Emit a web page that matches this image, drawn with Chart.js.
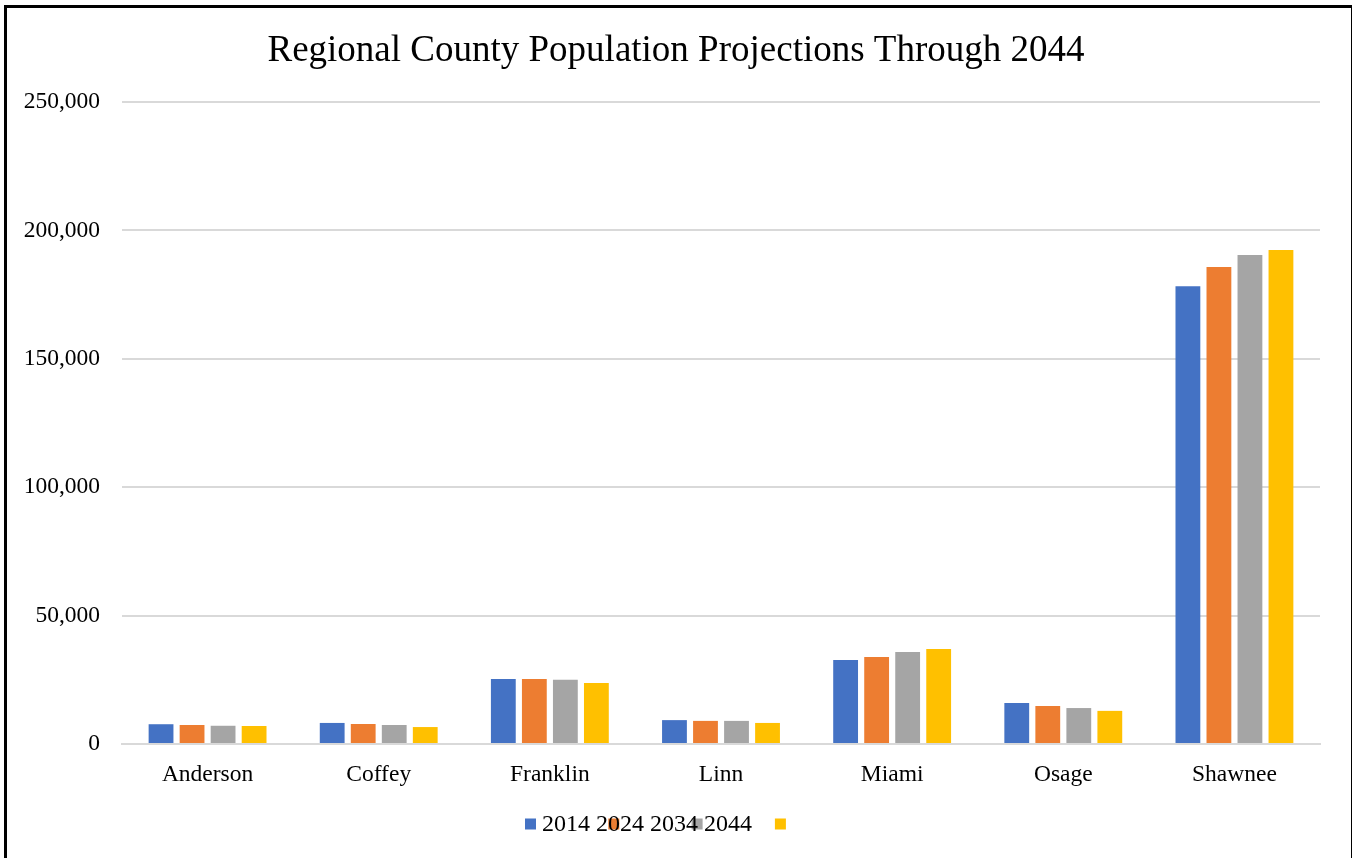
<!DOCTYPE html>
<html lang="en">
<head>
    <meta charset="UTF-8" />
    <title>Regional County Population Projections Through 2044</title>
    <script src="https://cdn.jsdelivr.net/npm/chart.js"></script>
    <style>
        html, body {
            margin: 0;
            padding: 0;
            background: #fff;
            overflow: hidden;
        }
        #wrap {
            position: relative;
            width: 1352px;
            height: 858px;
        }
        #frame {
            position: absolute;
            left: 4px;
            top: 5px;
            width: 1344px;
            height: 900px;
            border: 3px solid #000;
            pointer-events: none;
        }
    </style>
</head>
<body>
    <div id="wrap">
        <canvas id="popChart"></canvas>
        <div id="frame"></div>
    </div>

    <script>
        const counties = ['Anderson', 'Coffey', 'Franklin', 'Linn', 'Miami', 'Osage', 'Shawnee'];
        const years = ['2014', '2024', '2034', '2044'];
        const pop2014 = [7700, 8200, 25300, 9300, 32700, 16000, 178300];
        const pop2024 = [7400, 7800, 25300, 9000, 33900, 14800, 185700];
        const pop2034 = [7100, 7400, 25000, 9000, 35800, 14000, 190400];
        const pop2044 = [7000, 6600, 23800, 8200, 37000, 12900, 192400];
        const yTicks = [0, 50000, 100000, 150000, 200000, 250000];

        const colors = ['#4472C4', '#ED7D31', '#A5A5A5', '#FFC000'];
        const serif = "'Liberation Serif', 'Times New Roman', serif";

        // legend drawn by hand: boxes and labels run on their own spacing
        const legendPlugin = {
            id: 'looseLegend',
            afterDraw(chart) {
                const ctx = chart.ctx;
                const y = 824;
                const boxLeft = 525, boxPitch = 83.3, box = 11;
                ctx.save();
                chart.data.datasets.forEach((ds, i) => {
                    ctx.fillStyle = ds.backgroundColor;
                    ctx.fillRect(boxLeft + i * boxPitch, y - box / 2, box, box);
                });
                ctx.font = '24px ' + serif;
                ctx.fillStyle = '#000';
                ctx.textBaseline = 'middle';
                let x = 542;
                const gap = ctx.measureText(' ').width;
                chart.data.datasets.forEach(ds => {
                    ctx.fillText(ds.label, x, y + 1);
                    x += ctx.measureText(ds.label).width + gap;
                });
                ctx.restore();
            }
        };

        const series = [pop2014, pop2024, pop2034, pop2044];

        new Chart(document.getElementById('popChart'), {
            type: 'bar',
            data: {
                labels: counties,
                datasets: series.map((vals, i) => ({
                    label: years[i],
                    data: vals,
                    backgroundColor: colors[i],
                    borderWidth: 0,
                    categoryPercentage: 0.725,
                    barPercentage: 0.8
                }))
            },
            options: {
                responsive: true,
                maintainAspectRatio: false,
                animation: false,
                layout: {
                    padding: { left: 16, right: 16, top: 0, bottom: 64 }
                },
                plugins: {
                    legend: { display: false },
                    tooltip: { enabled: false },
                    title: {
                        display: true,
                        text: 'Regional County Population Projections Through 2044',
                        color: '#000',
                        font: { family: serif, size: 37, weight: 'normal' },
                        padding: { top: 29, bottom: 28.6 }
                    }
                },
                scales: {
                    x: {
                        grid: { display: false },
                        border: { color: '#d9d9d9', width: 2 },
                        ticks: {
                            color: '#000',
                            font: { family: serif, size: 23.5 },
                            padding: 9
                        },
                        afterFit(scale) { scale.height = 50; }
                    },
                    y: {
                        min: 0,
                        max: 250000,
                        afterBuildTicks(scale) {
                            scale.ticks = yTicks.map(v => ({ value: v }));
                        },
                        grid: { color: '#d9d9d9', lineWidth: 2, drawTicks: false },
                        border: { display: false },
                        ticks: {
                            color: '#000',
                            font: { family: serif, size: 23.5 },
                            padding: 22,
                            callback: v => v.toLocaleString('en-US')
                        },
                        afterFit(scale) { scale.width = 106; }
                    },
                    // empty right-hand strip so the plot ends short of the frame
                    yRight: {
                        position: 'right',
                        min: 0,
                        max: 250000,
                        grid: { display: false },
                        border: { display: false },
                        ticks: { display: false },
                        afterFit(scale) { scale.width = 16; }
                    }
                }
            },
            plugins: [legendPlugin]
        });
    </script>
</body>
</html>
